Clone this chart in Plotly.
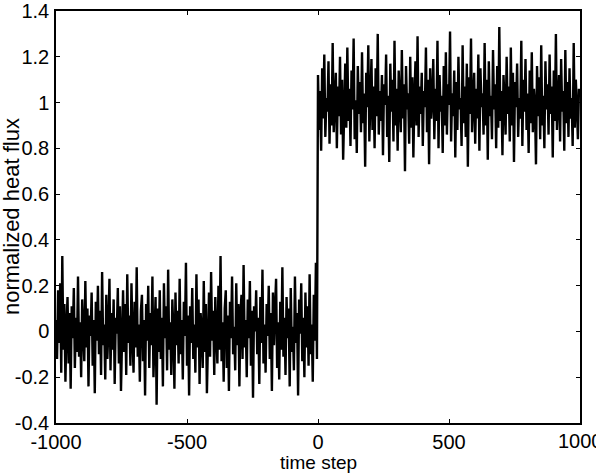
import numpy as np
import plotly.graph_objects as go

# normalized heat flux before the step (time steps -1000 .. -4, every 4th step)
flux_before = [
    0.05,-0.12,0.18,-0.05,0.21,-0.18,0.33,-0.08,0.12,-0.22,
    0.02,0.15,-0.14,0.08,-0.25,0.11,-0.03,0.19,-0.16,0.06,
    -0.09,0.24,-0.11,0.04,-0.2,0.14,0.0,-0.13,0.22,-0.07,
    0.1,-0.24,0.07,-0.02,0.17,-0.15,0.05,-0.27,0.13,-0.04,
    0.2,-0.1,0.09,-0.19,0.26,-0.06,0.03,-0.21,0.16,-0.12,
    0.01,0.23,-0.17,0.08,-0.08,0.14,-0.23,0.06,-0.01,0.19,
    -0.14,0.11,-0.26,0.04,0.18,-0.09,0.12,-0.19,0.25,-0.05,
    0.07,-0.15,0.21,-0.02,-0.18,0.13,-0.07,0.28,-0.11,0.03,
    -0.22,0.09,0.16,-0.13,0.05,-0.28,0.12,-0.04,0.2,-0.16,
    0.08,-0.06,0.24,-0.2,0.02,0.15,-0.32,0.1,-0.09,0.18,
    -0.12,0.06,-0.24,0.21,-0.03,0.11,-0.17,0.27,-0.08,0.04,
    -0.19,0.14,0.0,-0.25,0.17,-0.06,0.09,-0.14,0.23,-0.1,
    0.05,-0.21,0.13,-0.02,0.3,-0.15,0.07,-0.28,0.11,-0.05,
    0.19,-0.12,0.03,-0.18,0.25,-0.07,0.14,-0.23,0.08,0.0,
    -0.16,0.22,-0.09,0.12,-0.27,0.06,0.17,-0.11,0.26,-0.04,
    0.09,-0.19,0.15,-0.01,-0.14,0.2,-0.08,0.33,-0.13,0.04,
    -0.22,0.1,0.18,-0.16,0.07,-0.26,0.13,-0.03,0.24,-0.1,
    0.02,-0.17,0.21,-0.06,0.12,-0.24,0.08,0.16,-0.12,0.29,
    -0.07,0.05,-0.2,0.14,-0.03,0.22,-0.15,0.09,-0.29,0.11,
    0.0,0.18,-0.1,0.06,-0.23,0.15,-0.05,0.27,-0.14,0.03,
    -0.18,0.12,-0.02,0.2,-0.12,0.08,-0.26,0.17,-0.06,0.1,
    0.23,-0.16,0.04,-0.21,0.13,-0.08,0.28,-0.11,0.06,-0.19,
    0.15,-0.03,0.1,-0.24,0.19,-0.09,0.02,-0.17,0.24,-0.05,
    0.08,-0.28,0.14,-0.01,0.21,-0.13,0.06,-0.2,0.17,-0.07,
    0.11,-0.15,0.25,-0.1,0.03,-0.22,0.16,-0.04,0.3,-0.12,
]

# normalized heat flux after the step (time steps 0 .. 996, every 4th step)
flux_after = [
    1.12,0.88,1.05,0.79,1.15,0.93,1.21,0.85,1.02,0.96,
    1.18,0.82,1.08,0.9,1.26,0.87,1.0,1.13,0.8,1.07,
    0.94,1.2,0.86,1.1,0.75,1.03,1.17,0.89,1.24,0.92,
    1.06,0.81,1.14,0.97,1.28,0.84,1.01,0.78,1.16,0.95,
    1.09,0.87,1.22,0.91,1.04,0.72,1.13,0.98,1.25,0.83,
    1.0,1.19,0.88,1.07,0.8,1.15,0.94,1.3,0.86,1.05,
    0.92,1.12,0.77,1.08,0.99,1.21,0.85,1.03,0.74,1.17,
    0.96,1.1,0.83,1.27,0.9,1.06,0.79,1.14,1.01,0.87,
    1.23,0.93,1.08,0.7,1.16,0.97,1.04,0.82,1.2,0.89,
    1.11,0.76,1.02,1.18,0.9,1.29,0.85,1.07,0.95,1.13,
    0.81,1.05,0.98,1.24,0.87,1.1,0.73,1.15,0.93,1.01,
    1.19,0.84,1.06,0.92,1.27,0.8,1.12,0.96,1.03,0.78,
    1.16,0.9,1.22,0.86,1.08,0.99,1.31,0.83,1.04,0.94,
    1.14,0.76,1.09,0.88,1.2,0.97,1.02,0.81,1.25,0.91,
    1.07,0.85,1.17,0.72,1.11,0.95,1.28,0.87,1.0,1.13,
    0.82,1.06,0.93,1.21,0.79,1.15,0.98,1.04,0.86,1.26,
    0.9,1.1,0.75,1.18,0.94,1.03,0.84,1.23,0.97,1.08,
    0.8,1.16,0.89,1.33,0.92,1.05,0.77,1.12,1.0,0.86,
    1.2,0.95,1.07,0.83,1.24,0.9,1.13,0.74,1.09,0.98,
    1.17,0.85,1.02,0.93,1.27,0.81,1.1,0.96,1.19,0.88,
    1.04,0.78,1.14,0.91,1.22,0.87,1.06,0.99,0.73,1.16,
    0.94,1.11,0.84,1.25,0.9,1.03,0.8,1.18,0.97,1.08,
    0.86,1.21,0.95,1.07,0.76,1.14,0.92,1.3,0.88,1.01,
    1.12,0.83,1.19,0.96,1.05,0.79,1.23,0.91,1.09,0.85,
    1.15,0.93,1.02,0.81,1.26,0.89,1.1,0.98,0.84,1.06,
]

time_before = list(range(-1000, 0, 4))
time_after = list(range(0, 1000, 4))

x_ticks = [-1000, -500, 0, 500, 1000]
x_ticklabels = ["-1000", "-500", "0", "500", "1000"]
y_ticks = [-0.4, -0.2, 0, 0.2, 0.4, 0.6, 0.8, 1, 1.2, 1.4]
y_ticklabels = ["-0.4", "-0.2", "0", "0.2", "0.4", "0.6", "0.8", "1", "1.2", "1.4"]

x_title = "time step"
y_title = "normalized heat flux"

time = time_before + time_after
flux = flux_before + flux_after

font = "Liberation Sans, Arial, sans-serif"
TICK_SIZE = 20

fig = go.Figure()
fig.add_trace(go.Scatter(x=time, y=flux, mode="lines",
                         line=dict(color="black", width=2.4),
                         showlegend=False))

axis_common = dict(
    showgrid=False, zeroline=False, showline=True, linecolor="black",
    linewidth=1.5, mirror="ticks", ticks="inside", ticklen=4,
    tickcolor="black", tickwidth=1, automargin=False,
    tickfont=dict(family=font, size=TICK_SIZE, color="black"),
)

# the last x tick label sits partly outside the page; plotly would hide it,
# so it is written as an annotation at that tick position instead
shown_x_labels = x_ticklabels[:-1] + [""]

fig.update_layout(
    width=596, height=474,
    margin=dict(l=56, r=16, t=11, b=51),
    paper_bgcolor="white", plot_bgcolor="white",
    xaxis=dict(range=[-1000, 1000], tickvals=x_ticks, ticktext=shown_x_labels,
               ticklabelstandoff=0, **axis_common),
    yaxis=dict(range=[-0.4, 1.4], tickvals=y_ticks, ticktext=y_ticklabels,
               ticklabelstandoff=1, **axis_common),
)

fig.add_annotation(x=x_ticks[-1], xref="x", y=0, yref="paper",
                   text=x_ticklabels[-1], showarrow=False,
                   xanchor="center", yanchor="top", yshift=-5,
                   font=dict(family=font, size=TICK_SIZE, color="black"))

# axis titles
fig.add_annotation(x=0.5, xref="paper", y=0, yref="paper", text=x_title,
                   showarrow=False, xanchor="center", yanchor="middle",
                   yshift=-39, font=dict(family=font, size=19, color="black"))
fig.add_annotation(x=0, xref="paper", y=0.5, yref="paper", text=y_title,
                   showarrow=False, textangle=-90, xanchor="center",
                   yanchor="middle", xshift=-45,
                   font=dict(family=font, size=22, color="black"))

fig.write_html("out.html")
